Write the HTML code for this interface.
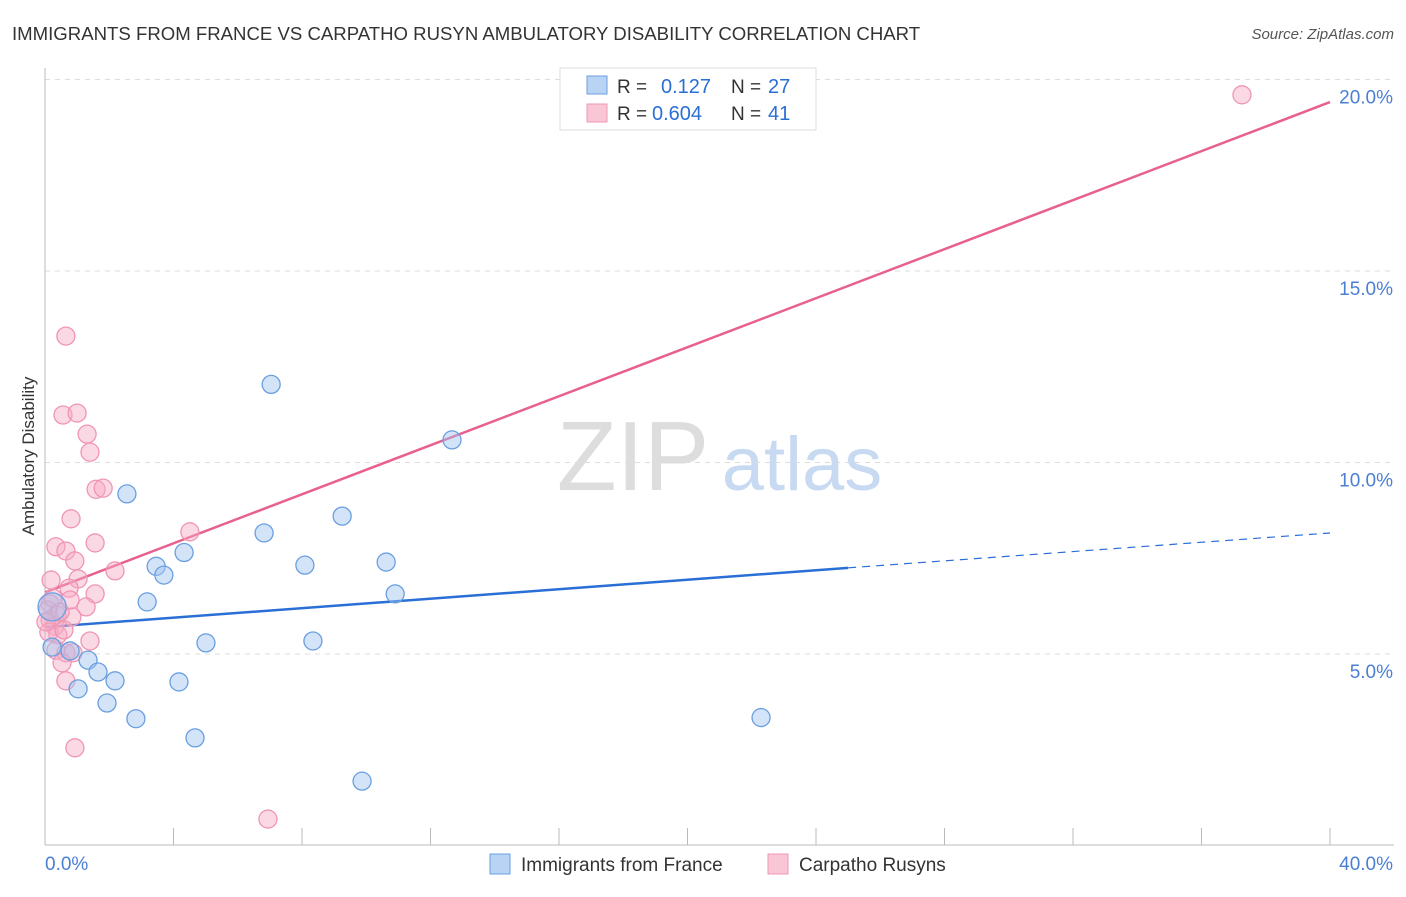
<!DOCTYPE html>
<html><head><meta charset="utf-8"><style>
body{margin:0;background:#fff;font-family:"Liberation Sans",sans-serif}
svg text{font-family:"Liberation Sans",sans-serif}
</style></head><body>
<svg id="chart" width="1406" height="892" xmlns="http://www.w3.org/2000/svg">
<text x="12" y="40" font-size="18.6" fill="#333">IMMIGRANTS FROM FRANCE VS CARPATHO RUSYN AMBULATORY DISABILITY CORRELATION CHART</text>
<text x="1394" y="39" font-size="15" fill="#555" text-anchor="end" font-style="italic">Source: ZipAtlas.com</text>
<text transform="translate(34,456) rotate(-90)" font-size="17" fill="#333" text-anchor="middle">Ambulatory Disability</text>
<g><text x="633" y="490" font-size="98" fill="#ddd" font-family="Liberation Serif" text-anchor="middle">ZIP</text><text x="802" y="490" font-size="76" fill="#c8daf2" text-anchor="middle">atlas</text></g>
<g id="grid"></g><g id="axes"></g><g id="lines"></g><g id="pts"></g>
<g>
<rect x="560" y="68" width="256" height="62" fill="#fff" stroke="#ddd"/>
<rect x="587" y="76" width="20" height="18" fill="#b9d3f5" stroke="#6a9fe0"/>
<text x="617" y="93" font-size="19" fill="#333">R = </text><text x="661" y="93" font-size="20" fill="#2a6fd6">0.127</text>
<text x="731" y="93" font-size="19" fill="#333">N = </text><text x="768" y="93" font-size="20" fill="#2a6fd6">27</text>
<rect x="587" y="104" width="20" height="18" fill="#f9c6d6" stroke="#f095b5"/>
<text x="617" y="120" font-size="19" fill="#333">R = </text><text x="652" y="120" font-size="20" fill="#2a6fd6">0.604</text>
<text x="731" y="120" font-size="19" fill="#333">N = </text><text x="768" y="120" font-size="20" fill="#2a6fd6">41</text>
</g>
<g>
<rect x="490" y="854" width="20" height="20" fill="#b9d3f5" stroke="#6a9fe0"/><text x="521" y="871" font-size="19" fill="#333">Immigrants from France</text>
<rect x="768" y="854" width="20" height="20" fill="#f9c6d6" stroke="#f095b5"/><text x="799" y="871" font-size="19" fill="#333">Carpatho Rusyns</text>
</g>
</svg>
<script>
const blueX=[2.55,7.04,12.67,6.82,9.25,4.33,3.46,3.70,8.09,10.62,10.90,3.18,5.01,8.34,0.22,0.78,1.34,1.65,2.18,4.17,1.03,1.93,2.83,4.67,22.29,9.87,0.22];
const blueY=[9.18,12.04,10.59,8.16,8.60,7.65,7.29,7.06,7.32,7.40,6.57,6.36,5.29,5.34,5.18,5.08,4.84,4.53,4.30,4.27,4.09,3.72,3.31,2.81,3.34,1.68,6.23];
const pinkX=[37.26,0.65,0.56,1.0,1.31,1.40,1.59,1.81,0.81,1.56,0.34,0.65,0.93,2.18,4.51,0.19,1.03,0.75,1.56,1.28,0.16,0.37,0.84,0.16,0.31,0.40,1.40,0.12,0.65,0.87,0.34,0.53,0.65,0.93,6.94,0.09,0.25,0.47,0.59,0.03,0.78];
const pinkY=[19.60,13.30,11.24,11.29,10.74,10.27,9.30,9.33,8.53,7.90,7.80,7.69,7.43,7.17,8.19,6.93,6.96,6.72,6.57,6.23,6.31,6.02,5.97,5.89,5.73,5.50,5.34,5.57,5.03,5.03,5.10,4.77,4.30,2.55,0.69,6.15,6.46,6.10,5.63,5.84,6.41];
const blueTrend=[5.70,7.25,8.16]; const blueTrendX=[0,25,40];
const pinkTrend=[6.61,19.41]; const pinkTrendX=[0,40];
const yTicks=[5,10,15,20]; const yTickLabels=["5.0%","10.0%","15.0%","20.0%"];
const xTicks=[0,4,8,12,16,20,24,28,32,36,40];
const NS="http://www.w3.org/2000/svg";
const X=v=>45+v/40*1285, Y=v=>845.5-v*38.3;
function mk(t,a,p){const e=document.createElementNS(NS,t);for(const k in a)e.setAttribute(k,a[k]);document.getElementById(p).appendChild(e);return e;}
yTicks.forEach((t,i)=>{
 const g=mk('line',{x1:45,x2:1394,y1:Y(t),y2:Y(t),stroke:'#ddd','stroke-dasharray':'5,5'},'grid');
 
 
 const l=mk('text',{x:1393,y:Y(t)+24,'font-size':19,fill:'#4a7fd4','text-anchor':'end'},'axes');
 l.textContent=yTickLabels[i];
 
 
});
const ax=mk('line',{x1:45,x2:45,y1:68,y2:845,stroke:'#bbb'},'axes');


const bx=mk('line',{x1:45,x2:1394,y1:845,y2:845,stroke:'#bbb'},'axes');


xTicks.forEach(t=>{const k=mk('line',{x1:X(t),x2:X(t),y1:828,y2:845,stroke:'#bbb'},'axes');
 
 });
[["0.0%",45,'start'],["40.0%",1393,'end']].forEach(a=>{const l=mk('text',{x:a[1],y:870,'font-size':19,fill:'#4a7fd4','text-anchor':a[2]},'axes');l.textContent=a[0];
 
 });
function dot(x,y,f,s,r){const c=mk('circle',{cx:X(x),cy:Y(y),r:r,fill:f,stroke:s,'stroke-width':1.3},'pts');return c;}
pinkX.forEach((x,i)=>{const c=dot(x,pinkY[i],'rgba(246,170,196,0.45)','#f095b5',9);
 
 });
blueX.forEach((x,i)=>{const c=dot(x,blueY[i],'rgba(160,196,240,0.45)','#6a9fe0',i==26?14:9);
 
 });
const b1=mk('line',{x1:X(blueTrendX[0]),y1:Y(blueTrend[0]),x2:X(blueTrendX[1]),y2:Y(blueTrend[1]),stroke:'#2a6fd6','stroke-width':2.5},'lines');


const b2=mk('line',{x1:X(blueTrendX[1]),y1:Y(blueTrend[1]),x2:X(blueTrendX[2]),y2:Y(blueTrend[2]),stroke:'#2a6fd6','stroke-width':1.2,'stroke-dasharray':'8,6'},'lines');


const p1=mk('line',{x1:X(pinkTrendX[0]),y1:Y(pinkTrend[0]),x2:X(pinkTrendX[1]),y2:Y(pinkTrend[1]),stroke:'#e8608f','stroke-width':2.5},'lines');


</script>
</body></html>
